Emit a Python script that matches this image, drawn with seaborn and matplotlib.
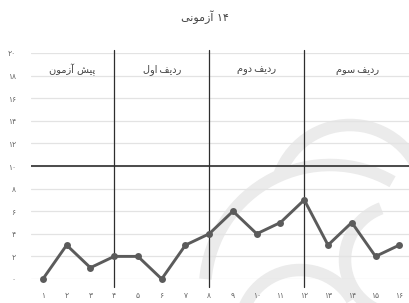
import numpy as np
import pandas as pd
import matplotlib
matplotlib.use('Agg')
import matplotlib.pyplot as plt
from matplotlib.patches import Arc
import seaborn as sns

# Persian text is written here already shaped (presentation forms) and in visual order,
# since matplotlib does no Arabic shaping / bidi on its own
title = '\uFEF0\uFEE7\uFEEE\uFEE3\uFEAF\uFE81 \u06F1\u06F4'
section_labels = [
    '\uFEE5\uFEEE\uFEE3\uFEAF\uFE81 \uFEB6\uFEF4\uFB58',   # pish azmoon
    '\uFEDD\uFEED\uFE8D\u2009\uFED2\uFEF3\uFEA9\uFEAD',    # radif aval
    '\uFEE1\uFEED\uFEA9\u2009\uFED2\uFEF3\uFEA9\uFEAD',    # radif dovom
    '\uFEE1\uFEEE\uFEB3\u2009\uFED2\uFEF3\uFEA9\uFEAD',    # radif sevom
]
section_centers = [2.25, 6, 10, 14.25]
separators = [4, 8, 12]

# data
steps = list(range(1, 17))
scores = [0, 3, 1, 2, 2, 0, 3, 4, 6, 4, 5, 7, 3, 5, 2, 3]
pass_mark = 10

fa_digits = '\u06F0\u06F1\u06F2\u06F3\u06F4\u06F5\u06F6\u06F7\u06F8\u06F9'


def to_fa(n):
    return ''.join(fa_digits[int(c)] for c in str(n))


df = pd.DataFrame({'step': steps, 'score': scores})

sns.set_style('white')
plt.rcParams['font.family'] = ['DejaVu Sans']

fig = plt.figure(figsize=(4.1, 3.03), dpi=100)

# faint watermark logo in the lower right (rough imitation)
bg = fig.add_axes([0, 0, 1, 1], zorder=-1)
bg.set_xlim(0, 410)
bg.set_ylim(303, 0)
bg.axis('off')
for (cx, cy, w, t1, t2) in [(330, 290, 250, 185, 300), (350, 200, 150, 200, 360),
                            (300, 330, 120, 180, 330), (400, 260, 110, 90, 250)]:
    bg.add_patch(Arc((cx, cy), w, w, theta1=t1, theta2=t2, color='#ebebeb', lw=9))

ax = fig.add_axes([31 / 410, 1 - 279 / 303, 379 / 410, 226 / 303])
ax.patch.set_alpha(0)

# light horizontal grid
for v in range(0, 21, 2):
    ax.axhline(v, color='#e3e3e3', lw=0.9, zorder=0)
ax.axhline(pass_mark, color='#4a4a4a', lw=1.4, zorder=1)

for s in separators:
    ax.plot([s, s], [20.3, -0.7], color='#2e2e2e', lw=0.9, clip_on=False, zorder=1)

sns.lineplot(data=df, x='step', y='score', ax=ax, color='#5b5b5b', lw=2.1,
             marker='o', markersize=5, markeredgewidth=0, clip_on=False, zorder=3)

for lab, c in zip(section_labels, section_centers):
    ax.text(c, 18.5, lab, ha='center', va='center', fontsize=7, color='#444444')

ax.set_xlim(0.5, 16.45)
ax.set_ylim(0, 20)
ax.set_xticks(steps)
ax.set_xticklabels([to_fa(i) for i in steps])
ax.set_yticks(range(0, 21, 2))
ax.set_yticklabels([to_fa(v) for v in range(0, 21, 2)])
ax.tick_params(axis='both', length=0, labelsize=5.5, labelcolor='#666666')
ax.tick_params(axis='x', pad=9)
ax.tick_params(axis='y', pad=11)
ax.set_xlabel('')
ax.set_ylabel('')
sns.despine(ax=ax, left=True, bottom=True)

fig.text(205 / 410, 1 - 17 / 303, title, ha='center', va='center', fontsize=8, color='#444444')

fig.savefig('out.png', dpi=100)
